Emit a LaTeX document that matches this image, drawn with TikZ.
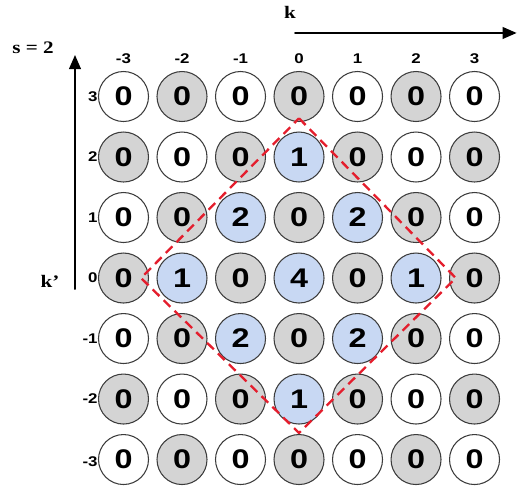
\documentclass[tikz,border=0pt]{standalone}
\usepackage{fontspec}
\setmainfont{Liberation Serif}[FakeStretch=1.2]
\newfontfamily\cellfont{Liberation Sans}[FakeStretch=1.2]
\usepackage{tikz}
\usetikzlibrary{arrows.meta}
\definecolor{cellgray}{RGB}{212,212,212}
\definecolor{cellblue}{RGB}{200,216,243}
\definecolor{cellline}{RGB}{60,60,60}
\definecolor{ridgered}{RGB}{228,30,45}

\begin{document}
\begin{tikzpicture}[line cap=round,line join=round,>={Triangle[length=12pt,width=10pt]},x=1.755cm,y=1.815cm,
  cell/.style={circle,draw=cellline,line width=0.9pt,minimum size=1.5cm,inner sep=0pt,font=\cellfont\bfseries\fontsize{23}{25}\selectfont},
  cw/.style={cell,fill=white},
  cg/.style={cell,fill=cellgray},
  cb/.style={cell,fill=cellblue},
  idx/.style={inner sep=0pt,font=\cellfont\bfseries\fontsize{12}{14}\selectfont},
  axis/.style={line width=1.6pt,->},
  title/.style={font=\bfseries\fontsize{15}{18}\selectfont},
  ridge/.style={ridgered,line width=2pt,line cap=butt,dash pattern=on 8pt off 5pt}]
\useasboundingbox (-5.111,-3.471) rectangle (3.726,4.595);
% axes
\coordinate (k0) at (-0.068,4.05);
\coordinate (k1) at (3.72,4.05);
\draw[axis] (k0) -- (k1);
\node[title] (klab) at (-0.154,4.397) {k};
\coordinate (kp0) at (-3.829,-0.182);
\coordinate (kp1) at (-3.829,3.686);
\draw[axis] (kp0) -- (kp1);
\node[title] (kplab) at (-4.256,-0.05) {k'};
\node[title] (slab) at (-4.547,3.802) {s = 2};
% column indices
\node[idx] (t1) at (-3,3.62) {-3};
\node[idx] (t2) at (-2,3.62) {-2};
\node[idx] (t3) at (-1,3.62) {-1};
\node[idx] (t4) at (0,3.62) {0};
\node[idx] (t5) at (1,3.62) {1};
\node[idx] (t6) at (2,3.62) {2};
\node[idx] (t7) at (3,3.62) {3};
% row indices
\node[idx,anchor=east] (r1) at (-3.44,3) {3};
\node[idx,anchor=east] (r2) at (-3.44,2) {2};
\node[idx,anchor=east] (r3) at (-3.44,1) {1};
\node[idx,anchor=east] (r4) at (-3.44,0) {0};
\node[idx,anchor=east] (r5) at (-3.44,-1) {-1};
\node[idx,anchor=east] (r6) at (-3.44,-2) {-2};
\node[idx,anchor=east] (r7) at (-3.44,-3.03) {-3};
% row 3
\node[cw] (A1) at (-3,3) {0};
\node[cg] (A2) at (-2,3) {0};
\node[cw] (A3) at (-1,3) {0};
\node[cg] (A4) at (0,3) {0};
\node[cw] (A5) at (1,3) {0};
\node[cg] (A6) at (2,3) {0};
\node[cw] (A7) at (3,3) {0};
% row 2
\node[cg] (B1) at (-3,2) {0};
\node[cw] (B2) at (-2,2) {0};
\node[cg] (B3) at (-1,2) {0};
\node[cb] (B4) at (0,2) {1};
\node[cg] (B5) at (1,2) {0};
\node[cw] (B6) at (2,2) {0};
\node[cg] (B7) at (3,2) {0};
% row 1
\node[cw] (C1) at (-3,1) {0};
\node[cg] (C2) at (-2,1) {0};
\node[cb] (C3) at (-1,1) {2};
\node[cg] (C4) at (0,1) {0};
\node[cb] (C5) at (1,1) {2};
\node[cg] (C6) at (2,1) {0};
\node[cw] (C7) at (3,1) {0};
% row 0
\node[cg] (D1) at (-3,0) {0};
\node[cb] (D2) at (-2,0) {1};
\node[cg] (D3) at (-1,0) {0};
\node[cb] (D4) at (0,0) {4};
\node[cg] (D5) at (1,0) {0};
\node[cb] (D6) at (2,0) {1};
\node[cg] (D7) at (3,0) {0};
% row -1
\node[cw] (E1) at (-3,-1) {0};
\node[cg] (E2) at (-2,-1) {0};
\node[cb] (E3) at (-1,-1) {2};
\node[cg] (E4) at (0,-1) {0};
\node[cb] (E5) at (1,-1) {2};
\node[cg] (E6) at (2,-1) {0};
\node[cw] (E7) at (3,-1) {0};
% row -2
\node[cg] (F1) at (-3,-2) {0};
\node[cw] (F2) at (-2,-2) {0};
\node[cg] (F3) at (-1,-2) {0};
\node[cb] (F4) at (0,-2) {1};
\node[cg] (F5) at (1,-2) {0};
\node[cw] (F6) at (2,-2) {0};
\node[cg] (F7) at (3,-2) {0};
% row -3
\node[cw] (G1) at (-3,-3) {0};
\node[cg] (G2) at (-2,-3) {0};
\node[cw] (G3) at (-1,-3) {0};
\node[cg] (G4) at (0,-3) {0};
\node[cw] (G5) at (1,-3) {0};
\node[cg] (G6) at (2,-3) {0};
\node[cw] (G7) at (3,-3) {0};
% dashed diamond
\coordinate (dtop) at (0,2.64);
\coordinate (dright) at (2.68,0);
\coordinate (dbot) at (0,-2.56);
\coordinate (dleft) at (-2.70,0);
\draw[ridge] (dtop) -- (dright) -- (dbot) -- (dleft) -- cycle;
\end{tikzpicture}
\end{document}
